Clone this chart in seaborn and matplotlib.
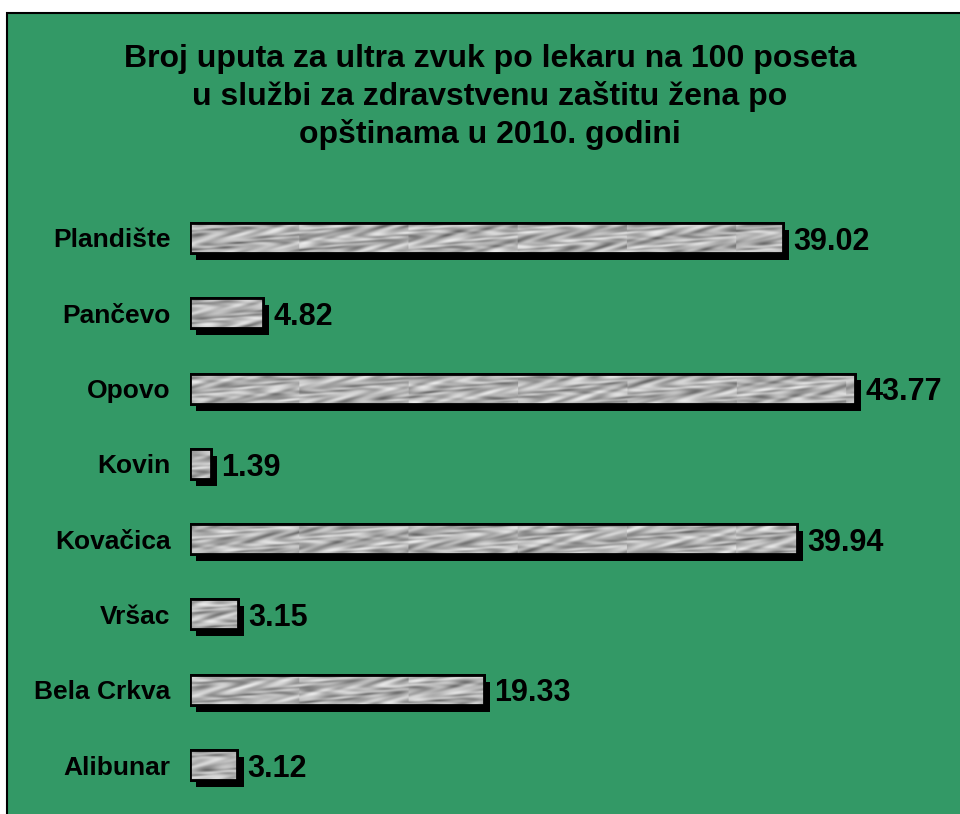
import numpy as np
import pandas as pd
import matplotlib
matplotlib.use("Agg")
import matplotlib.pyplot as plt
import seaborn as sns
from matplotlib.patches import Rectangle
from matplotlib import patheffects as pe

municipalities = ["Plandište", "Pančevo", "Opovo", "Kovin", "Kovačica", "Vršac", "Bela Crkva", "Alibunar"]
values = [39.02, 4.82, 43.77, 1.39, 39.94, 3.15, 19.33, 3.12]
value_labels = ["39.02", "4.82", "43.77", "1.39", "39.94", "3.15", "19.33", "3.12"]
title = "Broj uputa za ultra zvuk po lekaru na 100 poseta\nu službi za zdravstvenu zaštitu žena po\nopštinama u 2010. godini"

GREEN = "#339966"
FONT = "Liberation Sans"

plt.rcParams["font.family"] = [FONT, "DejaVu Sans"]

W, H = 960, 814
fig = plt.figure(figsize=(W / 100, H / 100), dpi=100, facecolor="white")

# green panel with black border
fig.patches.append(Rectangle((7 / W, -0.05), 1.2, 1 - 13 / H + 0.05, transform=fig.transFigure,
                             facecolor=GREEN, edgecolor="black", linewidth=1.5, zorder=-5))

px_per_unit = (855 - 190) / 43.77
xmax = 50
ax_left = 190 / W
ax_w = xmax * px_per_unit / W
step = 75.3
top_px = 238 - step / 2
bot_px = 765 + step / 2
ax = fig.add_axes([ax_left, (H - bot_px) / H, ax_w, (bot_px - top_px) / H])
ax.set_facecolor("none")
ax.set_zorder(2)

df = pd.DataFrame({"m": municipalities, "v": values})
sns.barplot(data=df, x="v", y="m", orient="h", color="#b0b0b0", width=0.4,
            edgecolor="black", linewidth=2, saturation=1, ax=ax)

# deterministic marble-like texture
yy, xx = np.mgrid[0:40, 0:800]
def texture(k):
    xw = xx % 115
    warp = np.sin(yy * 0.25 + xw * 0.05 + k) * 4
    t = (np.sin(xw * 0.09 - yy * 0.28 + warp + k) * 0.6
         + np.sin(xx * 0.047 + yy * 0.31 + 2.1 * k) * 0.5
         + np.sin(xx * 0.19 + np.sin(yy * 0.3 + xx * 0.02) * 3 + k * 0.7) * 0.35
         + np.cos(xw * 0.16 + yy * 0.45 + np.sin(xx * 0.03) * 2) * 0.3)
    t = (t - t.min()) / (t.max() - t.min())
    return 0.4 + 0.52 * t ** 0.8

for i, p in enumerate(list(ax.patches)):
    p.set_path_effects([pe.SimplePatchShadow(offset=(4.5, -5), shadow_rgbFace="black", alpha=1), pe.Normal()])
    p.set_zorder(2)
    y0 = p.get_y()
    h = p.get_height()
    im = ax.imshow(texture(i), cmap="gray", vmin=0, vmax=1, aspect="auto",
                   extent=(0, xmax, y0 + h, y0), zorder=2.5, interpolation="bilinear")
    im.set_clip_path(p)
    ax.add_patch(Rectangle((p.get_x(), y0), p.get_width(), h, facecolor="none",
                           edgecolor="black", linewidth=2, zorder=3))
    ax.text(p.get_width() + 10 / px_per_unit, y0 + h / 2 + 0.05, value_labels[i],
            ha="left", va="center", fontsize=22, fontweight="bold", color="black",
            family=FONT)

ax.set_xlim(0, xmax)
ax.set_ylim(len(values) - 0.5, -0.5)
ax.set_xlabel("")
ax.set_ylabel("")
ax.set_xticks([])
for s in ax.spines.values():
    s.set_visible(False)
ax.tick_params(axis="y", length=0, pad=14)
for lab in ax.get_yticklabels():
    lab.set_fontsize(19)
    lab.set_fontweight("bold")
    lab.set_family(FONT)

fig.text(490 / W, 1 - 97 / H, title, ha="center", va="center", fontsize=23,
         fontweight="bold", family=FONT, linespacing=1.3)

fig.savefig("out.png", dpi=100, facecolor="white")
